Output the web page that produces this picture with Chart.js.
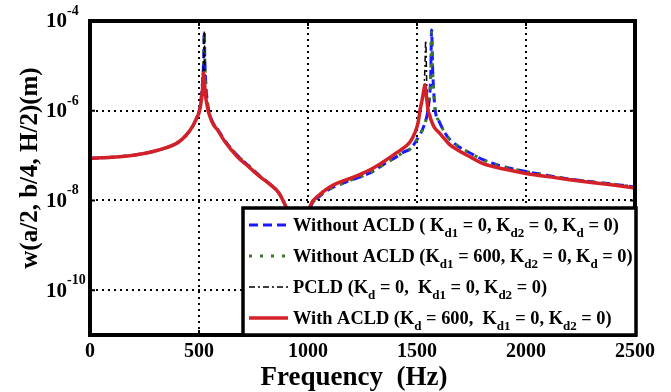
<!DOCTYPE html>
<html>
<head>
<meta charset="utf-8">
<script src="https://cdn.jsdelivr.net/npm/chart.js@4.4.1/dist/chart.umd.min.js"></script>
<style>
  html, body { margin: 0; padding: 0; background: #fff; }
  #wrap { width: 671px; height: 392px; position: relative; }
</style>
</head>
<body>
<div id="wrap"><canvas id="frf"></canvas></div>
<script>
// Frequency grid (Hz), denser round the two resonances
const freqHz = [
  0, 100, 200, 280, 350, 400, 440, 470, 490, 500,
  508, 514, 518, 521, 524, 527, 531, 536, 542, 550,
  565, 585, 620, 677, 730, 782, 830, 865, 900, 930,
  960, 990, 1011, 1050, 1100, 1150, 1194, 1250, 1300, 1350,
  1400, 1440, 1468, 1490, 1505, 1515, 1525, 1532, 1536, 1540,
  1545, 1551, 1558, 1563, 1567, 1572, 1583, 1600, 1625, 1650,
  1690, 1750, 1800, 1900, 2000, 2100, 2200, 2300, 2400, 2500,
];

// Without ACLD (Kd1 = 0, Kd2 = 0, Kd = 0)
const noAcld = [
  8.7e-8, 9.2e-8, 1.02e-7, 1.2e-7, 1.5e-7, 1.9e-7, 2.8e-7, 4.4e-7, 7e-7, 9.5e-7,
  1.6e-6, 3e-6, 6e-6, 1.2e-5, 5.8e-5, 1.2e-5, 4e-6, 2e-6, 1.2e-6, 8e-7,
  5.3e-7, 3.9e-7, 2.1e-7, 1e-7, 5.8e-8, 3.4e-8, 2.2e-8, 1.5e-8, 7e-9, 3e-9,
  1e-9, 2.8e-9, 7e-9, 1.2e-8, 1.8e-8, 2.3e-8, 2.8e-8, 3.5e-8, 4.5e-8, 6.5e-8,
  9e-8, 1.2e-7, 1.4e-7, 1.9e-7, 2.5e-7, 3e-7, 3.8e-7, 4.6e-7, 5.3e-7, 6e-7,
  7.5e-7, 1.1e-6, 2.2e-6, 6e-6, 6.3e-5, 8e-6, 1.1e-6, 6e-7, 3.4e-7, 2.3e-7,
  1.6e-7, 1.1e-7, 8.2e-8, 5.6e-8, 4.4e-8, 3.6e-8, 3e-8, 2.6e-8, 2.3e-8, 2e-8,
];

// Without ACLD (Kd1 = 600, Kd2 = 0, Kd = 0)
const noAcldKd1 = [
  8.7e-8, 9.2e-8, 1.02e-7, 1.2e-7, 1.5e-7, 1.9e-7, 2.8e-7, 4.4e-7, 7e-7, 9.5e-7,
  1.6e-6, 3e-6, 6e-6, 1.2e-5, 5.2e-5, 1.2e-5, 4e-6, 2e-6, 1.2e-6, 8e-7,
  5.3e-7, 3.9e-7, 2.1e-7, 1e-7, 5.8e-8, 3.4e-8, 2.2e-8, 1.5e-8, 7e-9, 3e-9,
  1e-9, 2.8e-9, 7e-9, 1.2e-8, 1.8e-8, 2.3e-8, 2.8e-8, 3.5e-8, 4.5e-8, 6.5e-8,
  9e-8, 1.2e-7, 1.4e-7, 1.9e-7, 2.5e-7, 3e-7, 3.8e-7, 4.6e-7, 5.3e-7, 6e-7,
  7.5e-7, 1.1e-6, 2.2e-6, 6e-6, 5.6e-5, 8e-6, 1.1e-6, 6e-7, 3.4e-7, 2.3e-7,
  1.6e-7, 1.1e-7, 8.2e-8, 5.6e-8, 4.4e-8, 3.6e-8, 3e-8, 2.6e-8, 2.3e-8, 2e-8,
];

// PCLD (Kd = 0, Kd1 = 0, Kd2 = 0)
const pcld = [
  8.7e-8, 9.2e-8, 1.02e-7, 1.2e-7, 1.5e-7, 1.9e-7, 2.8e-7, 4.4e-7, 7e-7, 9e-7,
  1.4e-6, 2.3e-6, 4.5e-6, 1.3e-5, 6e-5, 6e-6, 2.2e-6, 1.4e-6, 1e-6, 7.5e-7,
  5e-7, 3.7e-7, 2e-7, 9.3e-8, 5.5e-8, 3.3e-8, 2.2e-8, 1.5e-8, 7e-9, 3e-9,
  1e-9, 3e-9, 7.7e-9, 1.3e-8, 2e-8, 2.6e-8, 3.1e-8, 4e-8, 5.3e-8, 7.5e-8,
  1.1e-7, 1.5e-7, 2e-7, 3.2e-7, 5.4e-7, 1.1e-6, 1.9e-6, 3.3e-6, 8e-6, 3.7e-5,
  3.5e-6, 1.2e-6, 8e-7, 6.5e-7, 5.8e-7, 5e-7, 4e-7, 3.3e-7, 2.4e-7, 1.75e-7,
  1.3e-7, 9e-8, 6.7e-8, 5e-8, 4e-8, 3.4e-8, 2.9e-8, 2.5e-8, 2.2e-8, 1.9e-8,
];

// With ACLD (Kd = 600, Kd1 = 0, Kd2 = 0)
const withAcld = [
  8.7e-8, 9.2e-8, 1.02e-7, 1.2e-7, 1.5e-7, 1.9e-7, 2.8e-7, 4.4e-7, 7e-7, 9e-7,
  1.4e-6, 2.3e-6, 4e-6, 7e-6, 5e-6, 3.2e-6, 2e-6, 1.4e-6, 1e-6, 7.5e-7,
  5e-7, 3.7e-7, 2e-7, 9.3e-8, 5.5e-8, 3.3e-8, 2.2e-8, 1.5e-8, 7e-9, 3e-9,
  1e-9, 3e-9, 7.7e-9, 1.3e-8, 2e-8, 2.6e-8, 3.1e-8, 4e-8, 5.3e-8, 7.5e-8,
  1.1e-7, 1.5e-7, 2e-7, 3.2e-7, 5.4e-7, 1.1e-6, 1.9e-6, 3e-6, 3.8e-6, 2.8e-6,
  1.8e-6, 1e-6, 8e-7, 6.5e-7, 5.8e-7, 5e-7, 4e-7, 3.3e-7, 2.4e-7, 1.75e-7,
  1.3e-7, 9e-8, 6.7e-8, 5e-8, 4e-8, 3.4e-8, 2.9e-8, 2.5e-8, 2.2e-8, 1.9e-8,
];

const xTickValues = [0, 500, 1000, 1500, 2000, 2500];
const yTickValues = [1e-10, 1e-8, 1e-6, 1e-4];
const yTickExponents = ['-10', '-8', '-6', '-4'];

// legend rows: alternating normal text / subscript text
const legendRows = [
  ['Without ACLD ( K', 'd1', ' = 0, K', 'd2', ' = 0, K', 'd', ' = 0)'],
  ['Without ACLD (K', 'd1', ' = 600, K', 'd2', ' = 0, K', 'd', ' = 0)'],
  ['PCLD (K', 'd', ' = 0,  K', 'd1', ' = 0, K', 'd2', ' = 0)'],
  ['With ACLD (K', 'd', ' = 600,  K', 'd1', ' = 0, K', 'd2', ' = 0)'],
];

const SERIF = '"Liberation Serif", "DejaVu Serif", serif';
const toPoints = (ys) => freqHz.map((f, i) => ({ x: f, y: ys[i] }));

const series = [
  { label: 'noAcld', data: noAcld, color: '#1a1aff', width: 3, dash: [9, 5], order: 3 },
  { label: 'noAcldKd1', data: noAcldKd1, color: '#3a7a28', width: 3, dash: [3, 8], order: 2 },
  { label: 'pcld', data: pcld, color: '#000000', width: 1.5, dash: [6, 3, 2, 3], order: 1 },
  { label: 'withAcld', data: withAcld, color: '#d42027', width: 3.5, dash: [], order: 0 },
];

// axes labels with superscripts, frame and the boxed legend
const decorations = {
  id: 'decorations',
  afterDatasetsDraw(chart) {
    const { ctx, chartArea: a, scales: { x, y } } = chart;
    ctx.save();

    // short solid ticks where the grid meets the frame
    ctx.strokeStyle = '#000';
    ctx.lineWidth = 2;
    ctx.setLineDash([]);
    ctx.beginPath();
    xTickValues.forEach((v) => {
      const px = x.getPixelForValue(v);
      ctx.moveTo(px, a.top); ctx.lineTo(px, a.top + 5);
      ctx.moveTo(px, a.bottom); ctx.lineTo(px, a.bottom - 5);
    });
    yTickValues.forEach((v) => {
      const py = y.getPixelForValue(v);
      ctx.moveTo(a.left, py); ctx.lineTo(a.left + 5, py);
      ctx.moveTo(a.right, py); ctx.lineTo(a.right - 5, py);
    });
    ctx.stroke();

    // frame
    ctx.lineWidth = 4;
    ctx.strokeRect(a.left, a.top, a.right - a.left, a.bottom - a.top);

    // legend box
    const lx = 243; const ly = 208; const lw = 393; const lh = 127;
    ctx.fillStyle = '#fff';
    ctx.fillRect(lx, ly, lw, lh);
    ctx.lineWidth = 3.5;
    ctx.strokeRect(lx, ly, lw, lh);
    const rowY = [225, 256, 287, 318];
    legendRows.forEach((row, r) => {
      const s = series[r];
      const cy = rowY[r];
      ctx.strokeStyle = s.color;
      ctx.lineWidth = s.width;
      ctx.setLineDash(s.dash);
      ctx.beginPath();
      ctx.moveTo(249, cy);
      ctx.lineTo(288, cy);
      ctx.stroke();
      ctx.setLineDash([]);
      let tx = 293;
      ctx.fillStyle = '#000';
      ctx.textBaseline = 'alphabetic';
      ctx.textAlign = 'left';
      row.forEach((part, k) => {
        const sub = k % 2 === 1;
        ctx.font = sub ? `bold 13px ${SERIF}` : `bold 18.4px ${SERIF}`;
        ctx.fillText(part, tx, sub ? cy + 12 : cy + 6);
        tx += ctx.measureText(part).width;
      });
    });

    // y tick labels: 10 with exponent
    ctx.fillStyle = '#000';
    ctx.textAlign = 'left';
    yTickValues.forEach((v, i) => {
      const py = y.getPixelForValue(v);
      ctx.font = `bold 21px ${SERIF}`;
      ctx.textBaseline = 'middle';
      ctx.fillText('10', 46, py + 1);
      const w = ctx.measureText('10').width;
      ctx.font = `bold 14px ${SERIF}`;
      ctx.textBaseline = 'alphabetic';
      ctx.fillText(yTickExponents[i], 46 + w, py - 6);
    });

    // x tick labels
    ctx.font = `bold 20px ${SERIF}`;
    ctx.textAlign = 'center';
    ctx.textBaseline = 'middle';
    xTickValues.forEach((v) => {
      ctx.fillText(String(v), x.getPixelForValue(v), 352);
    });

    // axis titles
    ctx.font = `bold 27px ${SERIF}`;
    ctx.fillText('Frequency  (Hz)', 354, 378);
    ctx.font = `bold 25px ${SERIF}`;
    ctx.translate(31, 168);
    ctx.rotate(-Math.PI / 2);
    ctx.fillText('w(a/2, b/4, H/2)(m)', 0, 0);

    ctx.restore();
  },
};

const chart = new Chart(document.getElementById('frf'), {
  type: 'line',
  data: {
    datasets: series.map((s) => ({
      label: s.label,
      data: toPoints(s.data),
      borderColor: s.color,
      borderWidth: s.width,
      borderDash: s.dash,
      pointRadius: 0,
      fill: false,
      cubicInterpolationMode: 'monotone',
      order: s.order,
    })),
  },
  options: {
    responsive: true,
    maintainAspectRatio: false,
    animation: false,
    layout: {
      padding: { left: 90, right: 36, top: 21, bottom: 57 },
    },
    scales: {
      x: {
        type: 'linear',
        min: 0,
        max: 2500,
        afterBuildTicks: (scale) => { scale.ticks = xTickValues.map((v) => ({ value: v })); },
        ticks: { display: false },
        grid: { color: '#000', lineWidth: 2, drawTicks: false },
        border: { display: false, dash: [2, 4] },
      },
      y: {
        type: 'logarithmic',
        min: 1e-11,
        max: 1e-4,
        afterBuildTicks: (scale) => { scale.ticks = yTickValues.map((v) => ({ value: v })); },
        ticks: { display: false },
        grid: { color: '#000', lineWidth: 2, drawTicks: false },
        border: { display: false, dash: [2, 4] },
      },
    },
    plugins: {
      legend: { display: false },
      tooltip: { enabled: false },
    },
  },
  plugins: [decorations],
});
</script>
</body>
</html>
